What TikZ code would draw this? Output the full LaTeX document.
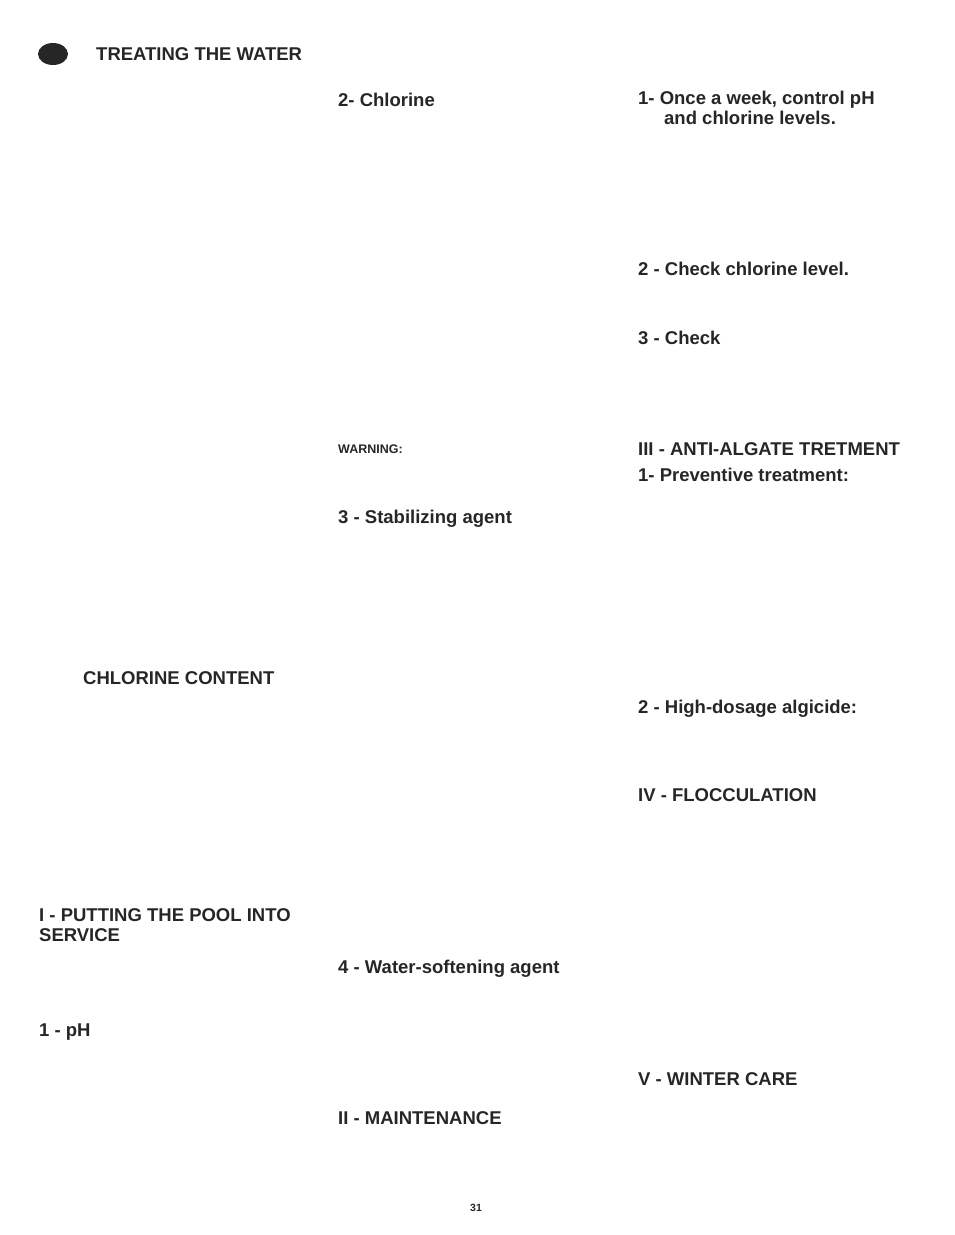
\documentclass[tikz,border=0pt]{standalone}
\usepackage{fontspec}
\setmainfont{Liberation Sans}
\begin{document}
\begin{tikzpicture}[x=1pt,y=-1pt,
  t/.style={anchor=base west,inner sep=0pt,font=\fontsize{18.5}{22}\selectfont\bfseries,text=black!85}]
\useasboundingbox (0,0) rectangle (954,1235);
\fill[black!85] (53,54) ellipse [x radius=15, y radius=11];
\node[t] (a1) at (96,60.5) {TREATING THE WATER};
\node[t] (a2) at (338,106.5) {2- Chlorine};
\node[t] (a3) at (638,104.5) {1- Once a week, control pH};
\node[t] (a4) at (664,124.5) {and chlorine levels.};
\node[t] (a5) at (638,275.5) {2 - Check chlorine level.};
\node[t] (a6) at (638,344.5) {3 - Check};
\node[t,font=\fontsize{12.5}{15}\selectfont\bfseries] (a7) at (338,453.5) {WARNING:};
\node[t] (a8) at (638,455.5) {III - ANTI-ALGATE TRETMENT};
\node[t] (a9) at (638,481.5) {1- Preventive treatment:};
\node[t] (a10) at (338,523.5) {3 - Stabilizing agent};
\node[t] (a11) at (83,684.5) {CHLORINE CONTENT};
\node[t] (a12) at (638,713.5) {2 - High-dosage algicide:};
\node[t] (a13) at (638,801.5) {IV - FLOCCULATION};
\node[t] (a14) at (39,921.5) {I - PUTTING THE POOL INTO};
\node[t] (a15) at (39,941.5) {SERVICE};
\node[t] (a16) at (338,973.5) {4 - Water-softening agent};
\node[t] (a17) at (39,1036.5) {1 - pH};
\node[t] (a18) at (638,1085.5) {V - WINTER CARE};
\node[t] (a19) at (338,1124.5) {II - MAINTENANCE};
\node[t,font=\fontsize{10.5}{12}\selectfont\bfseries] (a20) at (470,1211) {31};
\end{tikzpicture}
\end{document}
